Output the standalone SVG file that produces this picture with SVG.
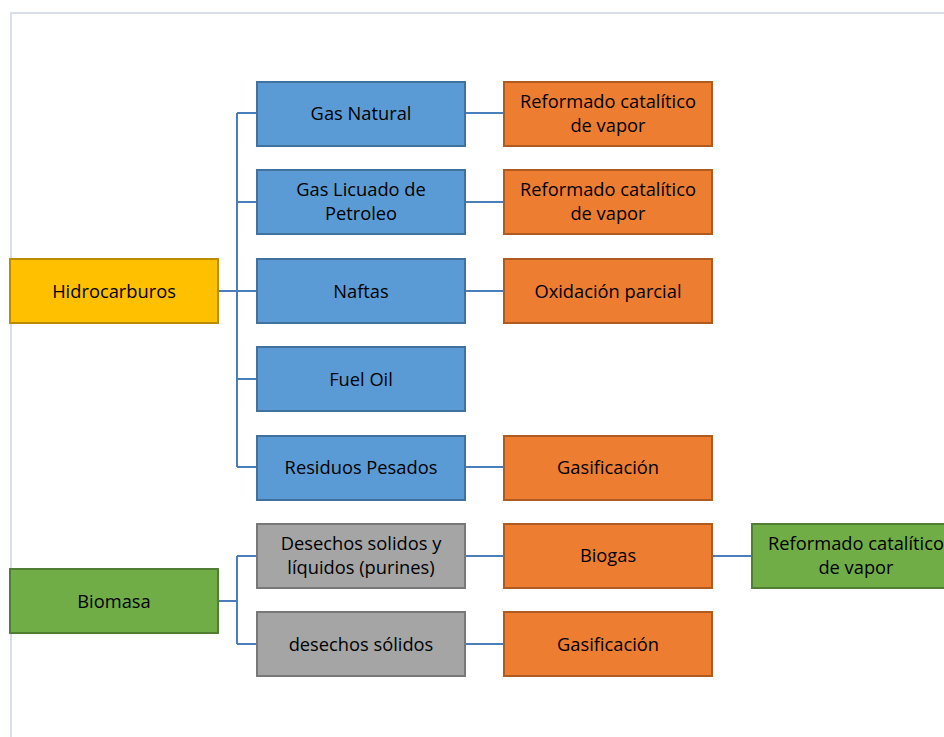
<svg xmlns="http://www.w3.org/2000/svg" width="944" height="737" viewBox="0 0 944 737">
<style>
text{font-family:"Open Sans","Liberation Sans",sans-serif;font-size:18.3px;fill:#000;text-anchor:middle}
rect{stroke-width:2}
.y{fill:#ffc000;stroke:#bc8c00}
.b{fill:#5b9bd5;stroke:#41719c}
.o{fill:#ed7d31;stroke:#ae5a21}
.g{fill:#a5a5a5;stroke:#787878}
.gr{fill:#70ad47;stroke:#507e32}
.c{fill:none;stroke:#4a7ebb;stroke-width:2}
</style>
<rect width="944" height="737" fill="#fff" stroke="none"/>
<path d="M11 737V13H944" fill="none" stroke="#d9dee8" stroke-width="2"/>
<g id="connectors">
<path class="c" d="M218 291H237M237 113V467M237 113H257M237 202H257M237 291H257M237 379H257M237 467H257"/>
<path class="c" d="M465 113H504M465 202H504M465 291H504M465 467H504M465 556H504M465 644H504M712 556H752"/>
<path class="c" d="M218 601H237M237 556V644M237 556H257M237 644H257"/>
</g>
<g id="hidrocarburos"><rect class="y" x="10" y="259" width="208" height="64"/><text x="114" y="297.5">Hidrocarburos</text></g>
<g id="gas-natural"><rect class="b" x="257" y="82" width="208" height="64"/><text x="361" y="120">Gas Natural</text></g>
<g id="glp"><rect class="b" x="257" y="170" width="208" height="64"/><text x="361" y="196">Gas Licuado de</text><text x="361" y="220">Petroleo</text></g>
<g id="naftas"><rect class="b" x="257" y="259" width="208" height="64"/><text x="361" y="297.5">Naftas</text></g>
<g id="fuel-oil"><rect class="b" x="257" y="347" width="208" height="64"/><text x="361" y="385.5">Fuel Oil</text></g>
<g id="residuos"><rect class="b" x="257" y="436" width="208" height="64"/><text x="361" y="474">Residuos Pesados</text></g>
<g id="ref1"><rect class="o" x="504" y="82" width="208" height="64"/><text x="608" y="108">Reformado catalítico</text><text x="608" y="132">de vapor</text></g>
<g id="ref2"><rect class="o" x="504" y="170" width="208" height="64"/><text x="608" y="196">Reformado catalítico</text><text x="608" y="220">de vapor</text></g>
<g id="oxidacion"><rect class="o" x="504" y="259" width="208" height="64"/><text x="608" y="297.5">Oxidación parcial</text></g>
<g id="gasif1"><rect class="o" x="504" y="436" width="208" height="64"/><text x="608" y="474">Gasificación</text></g>
<g id="biomasa"><rect class="gr" x="10" y="569" width="208" height="64"/><text x="114" y="607.5">Biomasa</text></g>
<g id="desechos-sl"><rect class="g" x="257" y="524" width="208" height="64"/><text x="361" y="550">Desechos solidos y</text><text x="361" y="574">líquidos (purines)</text></g>
<g id="desechos-s"><rect class="g" x="257" y="612" width="208" height="64"/><text x="361" y="650.5">desechos sólidos</text></g>
<g id="biogas"><rect class="o" x="504" y="524" width="208" height="64"/><text x="608" y="562">Biogas</text></g>
<g id="gasif2"><rect class="o" x="504" y="612" width="208" height="64"/><text x="608" y="650.5">Gasificación</text></g>
<g id="ref3"><rect class="gr" x="752" y="524" width="208" height="64"/><text x="856" y="550">Reformado catalítico</text><text x="856" y="574">de vapor</text></g>
</svg>
